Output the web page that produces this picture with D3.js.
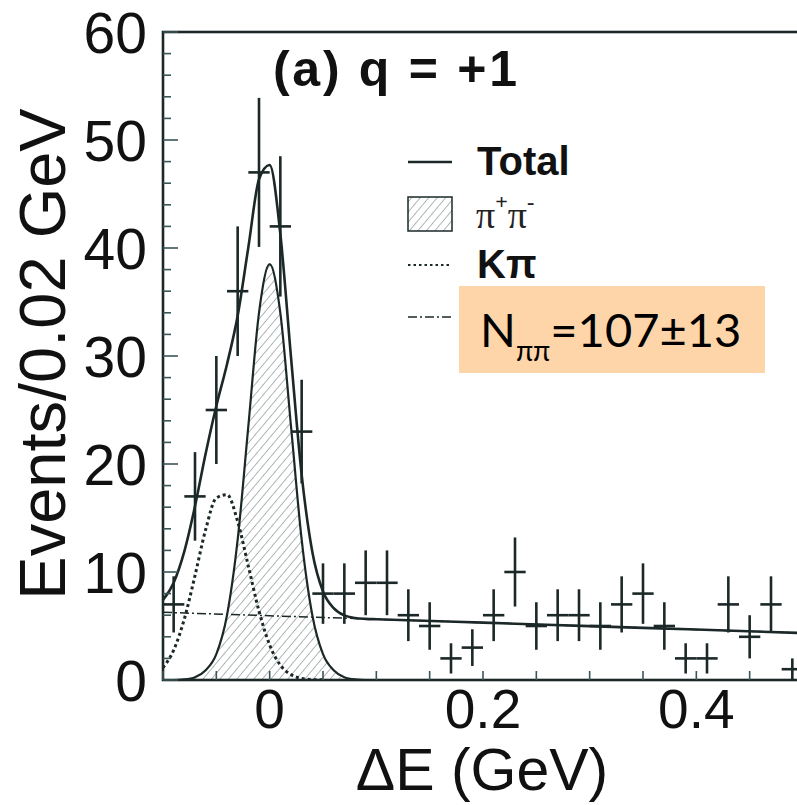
<!DOCTYPE html>
<html><head><meta charset="utf-8">
<script src="https://cdn.jsdelivr.net/npm/d3@7"></script>
<style>body{margin:0;background:#fff} svg{display:block}</style>
</head><body>
<script>
// ---- data ----
const binCenters = [-0.09,-0.07,-0.05,-0.03,-0.01,0.01,0.03,0.05,0.07,0.09,0.11,0.13,0.15,0.17,0.19,0.21,0.23,0.25,0.27,0.29,0.31,0.33,0.35,0.37,0.39,0.41,0.43,0.45,0.47,0.49];
const counts     = [7,17,25,36,47,42,23,8,8,9,9,6,5,2,3,6,10,5,6,6,5,7,8,5,2,2,7,4,7,1];
const errors     = [2.6,4.1,5,6,6.9,6.5,4.8,2.8,2.8,3,3,2.4,2.2,1.4,1.7,2.4,3.2,2.2,2.4,2.4,2.2,2.6,2.8,2.2,1.4,1.4,2.6,2,2.6,1];
const halfBin = 0.01;

// fit curves, read at sample positions
const curveX     = [-0.10,-0.09,-0.08,-0.07,-0.06,-0.05,-0.04,-0.03,-0.02,-0.01,0.00,0.01,0.02,0.03,0.04,0.05,0.06,0.07,0.08,0.09,0.10,0.2,0.3,0.4,0.5];
const pipiCurve  = [0,0,0.05,0.25,0.9,2.4,6.0,13.0,23.5,34.0,38.5,34.0,23.5,13.0,6.0,2.4,0.9,0.25,0.05,0,0,0,0,0,0];
const kpiCurve   = [1.14,2.77,5.65,9.67,13.93,16.86,17.16,14.68,10.55,6.38,3.24,1.38,0.50,0.15,0.04,0.01,0,0,0,0,0,0,0,0,0];
const totalCurve = [7.41,9.01,11.91,16.09,20.97,25.37,29.24,33.73,40.06,46.36,47.69,41.30,29.89,19.0,11.86,8.20,6.66,5.98,5.74,5.66,5.63,5.31,4.99,4.67,4.35];
const bkgX       = [-0.1,0.5];
const bkgCurve   = [6.27,4.35];

const xTickLabels = [0,0.2,0.4];
const xMinorTicks = [-0.1,-0.05,0,0.05,0.1,0.15,0.2,0.25,0.3,0.35,0.4,0.45,0.5];
const yTickLabels = [0,10,20,30,40,50,60];
const yMinorTicks = d3.range(0,61,2);

const legendLabels = ["Total","π+π-","Kπ",""];
const resultText = {main:"N", sub:"ππ", rest:"=107±13"};

// ---- drawing ----
const W = 797, H = 805;
const INK = "#1c2828";
const svg = d3.select("body").append("svg").attr("width",W).attr("height",H);
const x = d3.scaleLinear().domain([-0.1,0.5]).range([163,803]);
const y = d3.scaleLinear().domain([0,60]).range([680,32]);

const defs = svg.append("defs");
defs.append("clipPath").attr("id","clip").append("rect")
  .attr("x",163).attr("y",32).attr("width",W-163).attr("height",680-32);
const pat = defs.append("pattern").attr("id","hatch").attr("patternUnits","userSpaceOnUse")
  .attr("width",6.5).attr("height",6.5).attr("patternTransform","rotate(40)");
pat.append("line").attr("x1",0).attr("y1",0).attr("x2",0).attr("y2",6.5)
  .attr("stroke","#6d7a7a").attr("stroke-width",1.1);

const plot = svg.append("g").attr("clip-path","url(#clip)");
const idx = d3.range(curveX.length);

// pi+pi- hatched
const pipiIdx = idx.filter(i => curveX[i] <= 0.1);
plot.append("path").datum(pipiIdx)
  .attr("d", d3.area().x(i=>x(curveX[i])).y0(y(0)).y1(i=>y(pipiCurve[i])).curve(d3.curveMonotoneX))
  .attr("fill","url(#hatch)");
plot.append("path").datum(pipiIdx)
  .attr("d", d3.line().x(i=>x(curveX[i])).y(i=>y(pipiCurve[i])).curve(d3.curveMonotoneX))
  .attr("fill","none").attr("stroke",INK).attr("stroke-width",2.2);

// K pi dotted
const kpiIdx = idx.filter(i => curveX[i] <= 0.05);
plot.append("path").datum(kpiIdx)
  .attr("d", d3.line().x(i=>x(curveX[i])).y(i=>y(kpiCurve[i])).curve(d3.curveMonotoneX))
  .attr("fill","none").attr("stroke",INK).attr("stroke-width",3).attr("stroke-dasharray","3,3");

// background dash-dot
plot.append("path").datum(d3.range(bkgX.length))
  .attr("d", d3.line().x(i=>x(bkgX[i])).y(i=>y(bkgCurve[i])))
  .attr("fill","none").attr("stroke",INK).attr("stroke-width",1.5).attr("stroke-dasharray","9,3,2,3");

// total
plot.append("path").datum(idx)
  .attr("d", d3.line().x(i=>x(curveX[i])).y(i=>y(totalCurve[i])).curve(d3.curveMonotoneX))
  .attr("fill","none").attr("stroke",INK).attr("stroke-width",2.6);

// data points
const pts = plot.append("g").attr("stroke",INK).attr("stroke-width",2.6);
binCenters.forEach((c,i)=>{
  pts.append("line").attr("x1",x(c-halfBin)).attr("x2",x(c+halfBin)).attr("y1",y(counts[i])).attr("y2",y(counts[i]));
  pts.append("line").attr("x1",x(c)).attr("x2",x(c)).attr("y1",y(counts[i]-errors[i])).attr("y2",y(counts[i]+errors[i]));
});

// frame
svg.append("rect").attr("x",163).attr("y",32).attr("width",700).attr("height",648)
  .attr("fill","none").attr("stroke",INK).attr("stroke-width",2.6);

// ticks
const tk = svg.append("g").attr("stroke","#3a5555").attr("stroke-width",1.6);
yMinorTicks.forEach(v=>{
  const len = v%10===0 ? 15 : 8;
  tk.append("line").attr("x1",163).attr("x2",163+len).attr("y1",y(v)).attr("y2",y(v));
});
xMinorTicks.forEach(v=>{
  tk.append("line").attr("x1",x(v)).attr("x2",x(v)).attr("y1",680).attr("y2",680-9);
});

const font = "'Liberation Sans', Arial, sans-serif";
svg.append("g").selectAll("text").data(yTickLabels).join("text")
  .attr("x",147).attr("y",v=>y(v)+21).attr("text-anchor","end")
  .attr("font-family",font).attr("font-size",57).attr("fill","#111").text(d=>d);
svg.append("g").selectAll("text").data(xTickLabels).join("text")
  .attr("x",v=>x(v)).attr("y",728).attr("text-anchor","middle")
  .attr("font-family",font).attr("font-size",55).attr("fill","#111").text(d=>d);

svg.append("text").attr("x",482).attr("y",790).attr("text-anchor","middle")
  .attr("font-family",font).attr("font-size",59).attr("fill","#111").text("ΔE (GeV)");
svg.append("text").attr("transform","translate(65,354) rotate(-90)").attr("text-anchor","middle")
  .attr("font-family",font).attr("font-size",65).attr("fill","#111").text("Events/0.02 GeV");

svg.append("text").attr("x",273).attr("y",86).attr("font-family",font).attr("font-weight","bold")
  .attr("font-size",50).attr("textLength",244).attr("lengthAdjust","spacing").attr("fill","#111").text("(a) q = +1");

// legend
const lg = svg.append("g");
lg.append("line").attr("x1",408).attr("x2",452).attr("y1",162).attr("y2",162).attr("stroke",INK).attr("stroke-width",2.4);
lg.append("rect").attr("x",408).attr("y",197).attr("width",44).attr("height",34).attr("fill","url(#hatch)").attr("stroke",INK).attr("stroke-width",1.5);
lg.append("line").attr("x1",408).attr("x2",452).attr("y1",265).attr("y2",265).attr("stroke",INK).attr("stroke-width",2.2).attr("stroke-dasharray","2.5,3");
lg.append("line").attr("x1",408).attr("x2",452).attr("y1",317).attr("y2",317).attr("stroke",INK).attr("stroke-width",1.5).attr("stroke-dasharray","9,3,2,3");
lg.append("text").attr("x",477).attr("y",175).attr("font-family",font).attr("font-weight","bold").attr("font-size",40).attr("fill","#111").text(legendLabels[0]);
const pp = lg.append("text").attr("x",476).attr("y",228).attr("font-family","'Liberation Serif', serif").attr("font-size",38).attr("fill","#222");
pp.append("tspan").text("π");
pp.append("tspan").attr("dy",-19).attr("font-size",22).attr("font-weight","bold").text("+");
pp.append("tspan").attr("dy",19).text("π");
pp.append("tspan").attr("dy",-19).attr("font-size",22).attr("font-weight","bold").text("-");
lg.append("text").attr("x",477).attr("y",278).attr("font-family",font).attr("font-weight","bold").attr("font-size",40).attr("fill","#111").text(legendLabels[2]);

// result box
svg.append("rect").attr("x",459).attr("y",286).attr("width",306).attr("height",87).attr("fill","#fdd5a9");
const rt = svg.append("text").attr("x",480).attr("y",347).attr("font-family","Lato, 'Open Sans', sans-serif").attr("font-size",47).attr("fill","#000");
rt.append("tspan").text(resultText.main);
rt.append("tspan").attr("dy",14).attr("font-size",28).text(resultText.sub);
rt.append("tspan").attr("dy",-14).text(resultText.rest);
</script>
</body></html>
